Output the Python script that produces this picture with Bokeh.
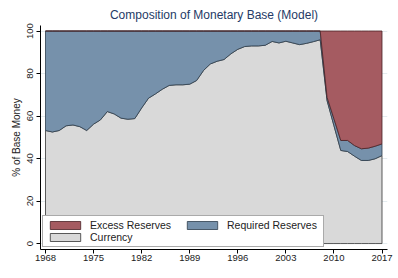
import numpy as np
from bokeh.plotting import figure
from bokeh.models import Legend, LegendItem, FixedTicker, Range1d
from bokeh.embed import file_html
from bokeh.resources import INLINE

years = list(range(1968, 2018))
currency = [53.2, 52.5, 53.2, 55.4, 55.8, 55.0, 53.2, 56.2, 58.2, 62.1,
            61.0, 59.0, 58.5, 58.8, 63.8, 68.4, 70.4, 72.6, 74.4, 74.7,
            74.7, 75.0, 76.7, 81.4, 84.5, 85.8, 86.6, 89.3, 91.4, 92.7,
            93.0, 93.0, 93.3, 95.1, 94.4, 95.2, 94.4, 93.6, 94.2, 95.0,
            95.9, 67.3, 55.5, 43.8, 43.3, 41.1, 39.1, 39.1, 39.9, 41.4]
required = [46.8, 47.5, 46.8, 44.6, 44.2, 45.0, 46.8, 43.8, 41.8, 37.9,
            39.0, 41.0, 41.5, 41.2, 36.2, 31.6, 29.6, 27.4, 25.6, 25.3,
            25.3, 25.0, 23.3, 18.6, 15.5, 14.2, 13.4, 10.7, 8.6, 7.3,
            7.0, 7.0, 6.7, 4.9, 5.6, 4.8, 5.6, 6.4, 5.8, 5.0,
            4.1, 1.5, 3.2, 4.7, 5.2, 5.0, 5.5, 5.8, 5.9, 5.5]
excess = [0.0] * 41 + [31.2, 41.3, 51.5, 51.5, 53.9, 55.4, 55.1, 54.2, 53.1]
y_ticks = [0, 20, 40, 60, 80, 100]
x_ticks = [1968, 1975, 1982, 1989, 1996, 2003, 2010, 2017]

FONT = "Liberation Sans"
yr = np.array(years, dtype=float)
c = np.array(currency)
r = np.array(required)
e = np.array(excess)
b0 = np.zeros_like(c)
b1 = c
b2 = c + r
b3 = c + r + e


def poly(lo, hi):
    xs = np.concatenate([yr, yr[::-1]])
    ys = np.concatenate([hi, lo[::-1]])
    return xs, ys


p = figure(frame_width=347, frame_height=224, output_backend="svg", toolbar_location=None,
           x_range=Range1d(1967.27, 2017.8), y_range=Range1d(-2.8, 102.6),
           min_border_left=40, min_border_right=7, min_border_top=25, min_border_bottom=18,
           background_fill_color="white", border_fill_color="white")

p.title.text = "Composition of Monetary Base (Model)"
p.title.align = "center"
p.title.text_font = FONT
p.title.text_font_size = "12px"
p.title.text_font_style = "normal"
p.title.text_color = "#253a66"
p.title.standoff = 7

xs, ys = poly(b0, b1)
r_cur = p.patch(xs, ys, fill_color="#d9d9d9", line_color="#333333", line_width=0.8)
xs, ys = poly(b1, b2)
r_req = p.patch(xs, ys, fill_color="#7691ab", line_color="#2d3d4d", line_width=0.8)
xs, ys = poly(b2, b3)
r_ex = p.patch(xs, ys, fill_color="#a55b61", line_color="#4a2226", line_width=0.8)

legend = Legend(items=[LegendItem(label="Excess Reserves", renderers=[r_ex]),
                       LegendItem(label="Required Reserves", renderers=[r_req]),
                       LegendItem(label="Currency", renderers=[r_cur])],
                orientation="horizontal", ncols=2, location=(2, 2),
                glyph_width=38, glyph_height=10, label_width=93, label_height=10,
                label_standoff=6, spacing=0, padding=3, margin=0,
                border_line_color="#555555", border_line_width=1,
                background_fill_color="white", background_fill_alpha=1,
                label_text_font=FONT, label_text_font_size="10.5px", label_text_color="#222222")
p.add_layout(legend)

p.xaxis.ticker = FixedTicker(ticks=x_ticks)
p.yaxis.ticker = FixedTicker(ticks=y_ticks)
p.yaxis.major_label_orientation = "vertical"
for ax in (p.xaxis, p.yaxis):
    ax.minor_tick_line_color = None
    ax.major_tick_out = 4
    ax.major_tick_in = 0
    ax.axis_line_color = "black"
    ax.major_tick_line_color = "black"
    ax.major_label_text_font = FONT
    ax.major_label_text_font_size = "9.5px"
    ax.major_label_text_color = "#222222"
    ax.major_label_standoff = 1
p.yaxis.major_label_standoff = 3
p.yaxis.axis_label = "% of Base Money"
p.yaxis.axis_label_text_font = FONT
p.yaxis.axis_label_text_font_size = "10px"
p.yaxis.axis_label_text_font_style = "normal"
p.yaxis.axis_label_text_color = "#222222"
p.yaxis.axis_label_standoff = 3
p.xgrid.grid_line_color = None
p.ygrid.ticker = FixedTicker(ticks=y_ticks)
p.ygrid.grid_line_color = "#e4ecef"
p.outline_line_color = None

open("out.html", "w").write(file_html(p, INLINE))
